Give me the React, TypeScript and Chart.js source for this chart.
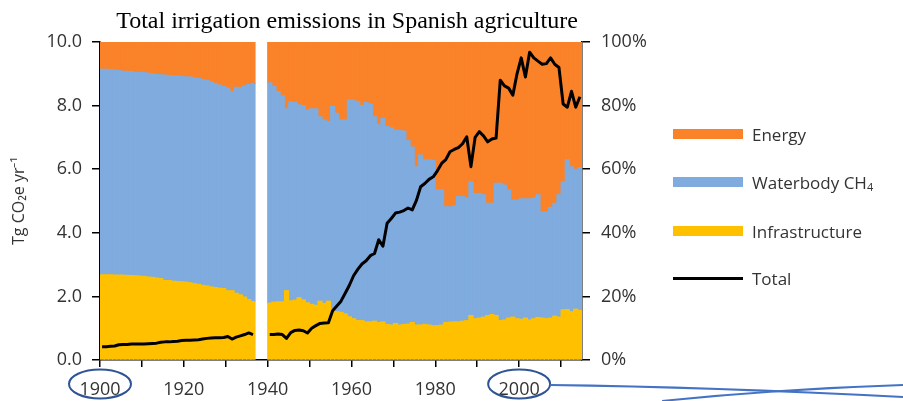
import React, { useEffect, useRef } from 'react';
import { Chart, registerables } from 'chart.js';

Chart.register(...registerables);

const TITLE = 'Total irrigation emissions in Spanish agriculture';
const Y_TITLE = 'Tg CO\u2082e yr\u207B\u00B9';

const YEARS: string[] = [];
for (let y = 1900; y <= 2014; y++) YEARS.push(String(y));

const X_TICKS = [1900, 1910, 1920, 1930, 1940, 1950, 1960, 1970, 1980, 1990, 2000, 2010];
const X_LABELED = [1900, 1920, 1940, 1960, 1980, 2000];
const LEFT_TICKS = [0, 2, 4, 6, 8, 10];
const RIGHT_TICKS = [0, 20, 40, 60, 80, 100];
const CIRCLED_YEARS = [1900, 2000];

// Total emissions, Tg CO2e per year (left axis)
const totalTg: (number | null)[] = [
  0.42, 0.42, 0.43, 0.44, 0.48, 0.49, 0.49, 0.50, 0.50, 0.50,
  0.50, 0.51, 0.52, 0.53, 0.56, 0.57, 0.57, 0.58, 0.59, 0.61,
  0.62, 0.62, 0.63, 0.64, 0.66, 0.68, 0.69, 0.70, 0.70, 0.71,
  0.74, 0.66, 0.72, 0.76, 0.80, 0.85, 0.80, null, null, null,
  0.80, 0.80, 0.82, 0.80, 0.68, 0.86, 0.93, 0.94, 0.92, 0.85,
  1.00, 1.08, 1.15, 1.16, 1.17, 1.55, 1.70, 1.85, 2.10, 2.35,
  2.65, 2.85, 3.02, 3.12, 3.28, 3.35, 3.78, 3.58, 4.30, 4.45,
  4.62, 4.65, 4.70, 4.78, 4.72, 5.02, 5.45, 5.55, 5.68, 5.76,
  5.95, 6.18, 6.30, 6.55, 6.62, 6.68, 6.80, 7.02, 6.08, 7.00,
  7.18, 7.05, 6.86, 6.95, 6.98, 8.80, 8.62, 8.55, 8.33, 9.00,
  9.50, 8.90, 9.68, 9.50, 9.40, 9.30, 9.32, 9.50, 9.30, 9.20,
  8.05, 7.95, 8.45, 7.95, 8.28,
];

// Shares (%) of total (right axis)
const infrastructurePct: (number | null)[] = [
  26.8, 26.8, 26.8, 26.7, 26.7, 26.7, 26.6, 26.6, 26.5, 26.4,
  26.3, 26.1, 26.0, 25.8, 25.6, 25.0, 25.0, 24.8, 24.7, 24.6,
  24.5, 24.3, 24.0, 23.8, 23.5, 23.3, 23.0, 22.8, 22.6, 22.5,
  21.8, 21.8, 21.0, 20.5, 19.8, 19.0, 18.4, null, null, null,
  17.9, 18.2, 18.3, 18.3, 21.8, 18.6, 18.8, 19.6, 18.9, 18.0,
  17.5, 17.2, 18.5, 17.8, 18.5, 16.0, 15.2, 15.0, 14.5, 13.6,
  13.0, 12.4, 12.4, 12.0, 12.0, 12.2, 11.8, 12.0, 11.2, 11.0,
  11.5, 11.0, 11.2, 11.3, 11.8, 11.0, 11.0, 11.2, 11.0, 10.8,
  10.8, 11.0, 11.8, 11.9, 12.0, 12.0, 12.2, 12.4, 14.0, 13.0,
  13.2, 13.5, 14.0, 14.3, 14.0, 12.4, 12.6, 13.2, 13.5, 13.0,
  12.8, 13.2, 12.6, 13.0, 13.4, 13.2, 13.0, 13.2, 13.8, 13.5,
  15.8, 15.9, 15.2, 16.0, 15.6,
];

const waterbodyPct: (number | null)[] = [
  64.6, 64.6, 64.5, 64.5, 64.3, 64.1, 64.2, 64.1, 64.0, 64.1,
  64.1, 64.1, 64.0, 64.0, 64.1, 64.6, 64.5, 64.6, 64.6, 64.6,
  64.6, 64.7, 64.7, 64.7, 64.7, 64.7, 64.5, 64.2, 63.9, 63.5,
  63.7, 62.6, 64.8, 65.2, 66.4, 67.6, 68.6, null, null, null,
  69.3, 67.8, 66.1, 64.7, 57.2, 62.6, 62.2, 60.7, 61.1, 60.6,
  61.5, 61.8, 58.0, 57.7, 56.5, 63.7, 62.4, 60.5, 61.0, 68.2,
  68.8, 68.9, 67.6, 69.0, 68.5, 64.3, 62.2, 64.0, 62.2, 62.0,
  60.8, 61.2, 60.8, 57.7, 55.2, 49.8, 53.5, 51.8, 52.0, 52.0,
  42.7, 42.5, 36.4, 36.3, 36.5, 39.4, 39.2, 38.6, 42.0, 39.4,
  39.2, 38.5, 35.3, 35.0, 41.6, 43.2, 42.4, 40.3, 36.8, 37.3,
  37.9, 37.5, 38.1, 38.0, 38.6, 33.4, 33.6, 34.8, 35.5, 38.5,
  40.2, 47.1, 45.6, 44.0, 44.9,
];

const energyPct: (number | null)[] = [
  8.6, 8.6, 8.7, 8.8, 9.0, 9.2, 9.2, 9.3, 9.5, 9.5,
  9.6, 9.8, 10.0, 10.2, 10.3, 10.4, 10.5, 10.6, 10.7, 10.8,
  10.9, 11.0, 11.3, 11.5, 11.8, 12.0, 12.5, 13.0, 13.5, 14.0,
  14.5, 15.6, 14.2, 14.3, 13.8, 13.4, 13.0, null, null, null,
  12.8, 14.0, 15.6, 17.0, 21.0, 18.8, 19.0, 19.7, 20.0, 21.4,
  21.0, 21.0, 23.5, 24.5, 25.0, 20.3, 22.4, 24.5, 24.5, 18.2,
  18.2, 18.7, 20.0, 19.0, 19.5, 23.5, 26.0, 24.0, 26.6, 27.0,
  27.7, 27.8, 28.0, 31.0, 33.0, 39.2, 35.5, 37.0, 37.0, 37.2,
  46.5, 46.5, 51.8, 51.8, 51.5, 48.6, 48.6, 49.0, 44.0, 47.6,
  47.6, 48.0, 50.7, 50.7, 44.4, 44.4, 45.0, 46.5, 49.7, 49.7,
  49.3, 49.3, 49.3, 49.0, 48.0, 53.4, 53.4, 52.0, 50.7, 48.0,
  44.0, 37.0, 39.2, 40.0, 39.5,
];

const COLORS = {
  energy: '#FA8228',
  waterbody: '#7FABDE',
  infrastructure: '#FFC000',
  total: '#000000',
  annotationDark: '#2F5496',
  annotationLine: '#4472C4',
};

const TICK_FONT = { family: '"Open Sans", sans-serif', size: 18 };
const TICK_COLOR = '#333333';

const annotationPlugin = {
  id: 'circledYears',
  afterDraw(chart: any) {
    const xs = chart.scales.xt;
    if (!xs) return;
    const ctx = chart.ctx;
    ctx.save();
    const cy = xs.top + 24;
    ctx.strokeStyle = COLORS.annotationDark;
    ctx.lineWidth = 2;
    const px: number[] = [];
    CIRCLED_YEARS.forEach((yr) => {
      const cx = xs.getPixelForValue(yr);
      px.push(cx);
      ctx.beginPath();
      ctx.ellipse(cx, cy, 31, 14.5, 0, 0, Math.PI * 2);
      ctx.stroke();
    });
    const w = chart.width;
    const startX = px[1] + 31;
    ctx.strokeStyle = COLORS.annotationLine;
    ctx.lineWidth = 2;
    ctx.beginPath();
    ctx.moveTo(startX, cy + 1);
    ctx.quadraticCurveTo(startX + 160, cy + 3, w, cy + 13);
    ctx.stroke();
    ctx.beginPath();
    ctx.moveTo(startX + 112, chart.height);
    ctx.quadraticCurveTo(startX + 230, cy + 5, w, cy + 1);
    ctx.stroke();
    ctx.restore();
  },
};

export default function App() {
  const canvasRef = useRef<HTMLCanvasElement | null>(null);

  useEffect(() => {
    if (!canvasRef.current) return;
    const chart = new Chart(canvasRef.current, {
      type: 'bar',
      data: {
        labels: YEARS,
        datasets: [
          {
            type: 'line',
            label: 'Total',
            data: totalTg,
            yAxisID: 'y',
            xAxisID: 'x',
            borderColor: COLORS.total,
            backgroundColor: COLORS.total,
            borderWidth: 3,
            pointRadius: 0,
            tension: 0,
            spanGaps: false,
            borderJoinStyle: 'round',
            order: 0,
          } as any,
          {
            label: 'Infrastructure',
            data: infrastructurePct,
            yAxisID: 'y2',
            backgroundColor: COLORS.infrastructure,
            borderWidth: 0,
            barPercentage: 1,
            categoryPercentage: 1,
            inflateAmount: 0.5,
            order: 1,
          } as any,
          {
            label: 'Waterbody CH\u2084',
            data: waterbodyPct,
            yAxisID: 'y2',
            backgroundColor: COLORS.waterbody,
            borderWidth: 0,
            barPercentage: 1,
            categoryPercentage: 1,
            inflateAmount: 0.5,
            order: 1,
          } as any,
          {
            label: 'Energy',
            data: energyPct,
            yAxisID: 'y2',
            backgroundColor: COLORS.energy,
            borderWidth: 0,
            barPercentage: 1,
            categoryPercentage: 1,
            inflateAmount: 0.5,
            order: 1,
          } as any,
        ],
      },
      options: {
        responsive: false,
        animation: false,
        devicePixelRatio: 1,
        layout: { padding: { left: 0, right: 0, top: 42, bottom: 0 } },
        plugins: {
          legend: { display: false },
          tooltip: { enabled: false },
          title: { display: false },
        },
        scales: {
          x: {
            type: 'category',
            display: false,
            stacked: true,
            offset: true,
          },
          xt: {
            type: 'linear',
            position: 'bottom',
            min: 1900,
            max: 2015,
            offset: false,
            afterBuildTicks: (s: any) => {
              s.ticks = X_TICKS.map((v) => ({ value: v }));
            },
            afterFit: (s: any) => {
              s.height = 41;
            },
            ticks: {
              autoSkip: false,
              maxRotation: 0,
              padding: 12,
              color: TICK_COLOR,
              font: TICK_FONT,
              callback: (v: any) => (X_LABELED.includes(Number(v)) ? String(v) : ''),
            },
            grid: { offset: false, drawOnChartArea: false, drawTicks: true, tickLength: 7, color: '#000', lineWidth: 1.5 },
            border: { display: true, color: '#000', width: 1.5 },
          },
          y: {
            type: 'linear',
            position: 'left',
            min: 0,
            max: 10,
            afterBuildTicks: (s: any) => {
              s.ticks = LEFT_TICKS.map((v) => ({ value: v }));
            },
            afterFit: (s: any) => {
              s.width = 100;
            },
            ticks: {
              padding: 10,
              color: TICK_COLOR,
              font: TICK_FONT,
              callback: (v: any) => Number(v).toFixed(1),
            },
            title: {
              display: true,
              text: Y_TITLE,
              color: TICK_COLOR,
              font: { family: '"Open Sans", sans-serif', size: 16 },
              padding: { top: 10, bottom: 0 },
            },
            grid: { drawOnChartArea: false, drawTicks: true, tickLength: 8, color: '#000', lineWidth: 1.5 },
            border: { display: true, color: '#000', width: 1.5 },
          },
          y2: {
            type: 'linear',
            position: 'right',
            min: 0,
            max: 100,
            stacked: true,
            afterBuildTicks: (s: any) => {
              s.ticks = RIGHT_TICKS.map((v) => ({ value: v }));
            },
            afterFit: (s: any) => {
              s.width = 321;
            },
            ticks: {
              padding: 11,
              color: TICK_COLOR,
              font: TICK_FONT,
              callback: (v: any) => `${v}%`,
            },
            grid: { drawOnChartArea: false, drawTicks: true, tickLength: 8, color: '#000', lineWidth: 1.5 },
            border: { display: true, color: '#000', width: 1.5 },
          },
        },
      } as any,
      plugins: [annotationPlugin],
    });
    return () => chart.destroy();
  }, []);

  const legendItems = [
    { label: 'Energy', color: COLORS.energy, line: false, sub: '' },
    { label: 'Waterbody CH', color: COLORS.waterbody, line: false, sub: '4' },
    { label: 'Infrastructure', color: COLORS.infrastructure, line: false, sub: '' },
    { label: 'Total', color: COLORS.total, line: true, sub: '' },
  ];
  const legendY = [134, 182, 231, 278];

  return (
    <div style={{ position: 'absolute', left: 0, top: 0, width: 903, height: 401, background: '#fff', overflow: 'hidden' }}>
      <canvas ref={canvasRef} width={903} height={401} style={{ position: 'absolute', left: 0, top: 0, width: 903, height: 401 }} />
      <div
        style={{
          position: 'absolute',
          left: 0,
          top: 8,
          width: 694,
          textAlign: 'center',
          fontFamily: '"Liberation Serif", "Times New Roman", serif',
          fontSize: 24,
          lineHeight: '24px',
          color: '#000',
          whiteSpace: 'nowrap',
        }}
      >
        {TITLE}
      </div>
      {legendItems.map((it, i) => (
        <div
          key={it.label}
          style={{
            position: 'absolute',
            left: 673,
            top: legendY[i] - 12,
            height: 24,
            display: 'flex',
            alignItems: 'center',
            fontFamily: '"Open Sans", sans-serif',
            fontSize: 17,
            color: '#333',
            whiteSpace: 'nowrap',
          }}
        >
          <span
            style={{
              display: 'inline-block',
              width: 70,
              height: it.line ? 3 : 10,
              background: it.color,
              marginRight: 9,
            }}
          />
          <span>
            {it.label}
            {it.sub ? <sub style={{ fontSize: 11, verticalAlign: -2 }}>{it.sub}</sub> : null}
          </span>
        </div>
      ))}
    </div>
  );
}
